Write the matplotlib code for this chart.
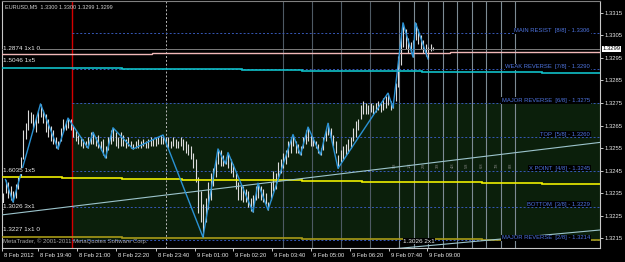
import matplotlib
matplotlib.use("Agg")
import matplotlib.pyplot as plt
from matplotlib.transforms import blended_transform_factory, ScaledTranslation

plt.rcParams["font.family"] = ["Liberation Sans", "DejaVu Sans"]

# ---- chart values (bar index = M5 bar counted from the left edge) ----
header = "EURUSD,M5  1.3300 1.3300 1.3299 1.3299"
copyright_text = "MetaTrader, \u00a9 2001-2011 MetaQuotes Software Corp."
bid = 1.3299

bar_high = [
    1.3235, 1.3241, 1.3240, 1.3238, 1.3236, 1.3239, 1.3242, 1.3251, 1.3263, 1.3266,
    1.3272, 1.3271, 1.3270, 1.3269, 1.3272, 1.32746, 1.3272, 1.3270, 1.3268, 1.3265,
    1.3263, 1.3260, 1.3258, 1.3264, 1.3268, 1.3267, 1.32683, 1.3268, 1.3265, 1.3263,
    1.3261, 1.3260, 1.3259, 1.3258, 1.3260, 1.3262, 1.3262, 1.3260, 1.3261, 1.3258,
    1.3259, 1.3256, 1.3260, 1.3263, 1.3264, 1.3262, 1.3260, 1.3262, 1.3261, 1.3259,
    1.3260, 1.3258, 1.3257, 1.3258, 1.3259, 1.3258, 1.3259, 1.3258, 1.3259, 1.3260,
    1.3259, 1.3260, 1.3260, 1.3261, 1.32608, 1.3260, 1.3260, 1.3258, 1.3260, 1.3259,
    1.3258, 1.3260, 1.3259, 1.3258, 1.3257, 1.3256, 1.3253, 1.3250, 1.3242, 1.3236,
    1.3230, 1.3233, 1.3240, 1.3244, 1.3246, 1.3250, 1.32546, 1.3254, 1.3252, 1.3251,
    1.3253, 1.3250, 1.3248, 1.3244, 1.3240, 1.3238, 1.3238, 1.3237, 1.3236, 1.3233,
    1.3234, 1.3238, 1.32394, 1.3238, 1.3237, 1.3235, 1.3231, 1.3240, 1.3245, 1.3244,
    1.3249, 1.3250, 1.3253, 1.3254, 1.3258, 1.3260, 1.3261, 1.3258, 1.3257, 1.3256,
    1.3260, 1.3263, 1.32643, 1.3261, 1.3260, 1.3258, 1.3257, 1.3255, 1.3260, 1.3263,
    1.3266, 1.3264, 1.3261, 1.3258, 1.3252, 1.3254, 1.3256, 1.3257, 1.3259, 1.3260,
    1.3264, 1.3267, 1.3268, 1.3274, 1.3276, 1.3275, 1.3274, 1.3275, 1.3274, 1.3275,
    1.3276, 1.3275, 1.3277, 1.3278, 1.32794, 1.3276, 1.3275, 1.3284, 1.3296, 1.3306,
    1.33106, 1.3308, 1.3304, 1.3302, 1.3303, 1.33106, 1.3308, 1.3305, 1.3303, 1.3301,
    1.3300, 1.3301, 1.3300,
]
bar_low = [
    1.3228, 1.3235, 1.3233, 1.3232, 1.3231, 1.3233, 1.3237, 1.3242, 1.3250, 1.3259,
    1.3263, 1.3266, 1.3264, 1.3262, 1.3266, 1.3269, 1.3266, 1.3262, 1.3260, 1.3258,
    1.3257, 1.3255, 1.32546, 1.3258, 1.3262, 1.3263, 1.3264, 1.3263, 1.3260, 1.3258,
    1.3257, 1.3256, 1.3255, 1.32555, 1.3255, 1.3257, 1.3257, 1.3256, 1.3255, 1.3254,
    1.3252, 1.32506, 1.3254, 1.3257, 1.3258, 1.3256, 1.3255, 1.3256, 1.3256, 1.3255,
    1.3256, 1.3255, 1.32546, 1.3255, 1.3255, 1.3255, 1.3256, 1.3255, 1.3255, 1.3256,
    1.3256, 1.3256, 1.3257, 1.3257, 1.3257, 1.3256, 1.3255, 1.3255, 1.3256, 1.3255,
    1.3255, 1.3256, 1.3254, 1.3253, 1.3252, 1.3250, 1.3246, 1.3240, 1.3226, 1.3222,
    1.32154, 1.3222, 1.3228, 1.3232, 1.3238, 1.3242, 1.3248, 1.3247, 1.3247, 1.3248,
    1.3246, 1.3244, 1.3242, 1.3237, 1.3232, 1.3232, 1.3231, 1.3231, 1.3229, 1.3227,
    1.32266, 1.3232, 1.3233, 1.3232, 1.3231, 1.3230, 1.32275, 1.3232, 1.3236, 1.3237,
    1.3242, 1.3244, 1.3246, 1.3248, 1.3251, 1.3253, 1.3256, 1.3253, 1.3253, 1.3252,
    1.3255, 1.3257, 1.3258, 1.3256, 1.3256, 1.3255, 1.3253, 1.3252, 1.3254, 1.3258,
    1.3261, 1.3259, 1.3256, 1.3253, 1.3246, 1.3249, 1.3250, 1.3252, 1.3253, 1.3255,
    1.3258, 1.3260, 1.3263, 1.3268, 1.3270, 1.3270, 1.3270, 1.3271, 1.3270, 1.3271,
    1.3272, 1.3271, 1.3272, 1.3273, 1.3274, 1.3272, 1.32728, 1.3276, 1.3282, 1.3292,
    1.3300, 1.3299, 1.3297, 1.3297, 1.32954, 1.3303, 1.3301, 1.3299, 1.3297, 1.3296,
    1.32946, 1.3298, 1.32986,
]

zigzag_bar = [1, 4, 15, 22, 26, 34, 36, 41, 44, 52, 64, 80, 86, 89, 90, 100, 102,
              106, 116, 119, 122, 127, 130, 134, 154, 156, 160, 164, 165, 170]
zigzag_price = [1.3241, 1.3231, 1.32746, 1.32546, 1.32683, 1.3255, 1.3262, 1.32506,
                1.3264, 1.32546, 1.32608, 1.32154, 1.32546, 1.3248, 1.3253, 1.32266,
                1.32394, 1.32275, 1.3261, 1.3252, 1.32643, 1.3252, 1.3266, 1.3246,
                1.32794, 1.32728, 1.33106, 1.32954, 1.33106, 1.32946]

# higher timeframe averages, drawn as steps
step_edges = [-2, 23.6, 47.6, 71.6, 95.6, 119.6, 143.6, 167.6, 191.6, 215.6, 240]
cyan_ma = [1.32907, 1.32906, 1.32903, 1.32900, 1.32897, 1.32894, 1.32892, 1.32889,
           1.32886, 1.32882]
yellow_ma = [1.32420, 1.32415, 1.32411, 1.32409, 1.32406, 1.32403, 1.32401, 1.32398,
             1.32394, 1.32391]
olive_ma = [1.32154, 1.32153, 1.32152, 1.32150, 1.32149, 1.32147, 1.32146, 1.32144,
            1.32142, 1.32140]
pink_edges = [-2, 59.6, 178.8, 240]
pink_ma = [1.32968, 1.32972, 1.32977]

# Murrey math levels
mm_start_bar = 27.6
mm_levels = [1.3306, 1.3290, 1.3275, 1.3260, 1.3245, 1.3229, 1.3214]
mm_names = ["MAIN RESIST  [8/8]", "WEAK REVERSE  [7/8]", "MAJOR REVERSE  [6/8]",
            "TOP  [5/8]", "X POINT  [4/8]", "BOTTOM  [3/8]", "MAJOR REVERSE  [2/8]"]
mm_time_bars = [112.0, 123.6, 135.2, 146.8, 158.4, 164.2, 170.0, 175.8, 181.6,
                187.4, 193.2, 199.0, 204.8]
mm_time_names = ["", "", "", "", "0/8", "1/8", "2/8", "3/8", "4/8", "5/8", "6/8",
                 "7/8", "8/8"]
day_separator_bar = 65.2

# Gann lines (two points each)
gann_3x1_bars = [-1.2, 238.8]
gann_3x1_prices = [1.32252, 1.32575]
gann_2x1_bars = [150.0, 238.8]
gann_2x1_prices = [1.32096, 1.32186]

gann_labels = ["1.2874 1x1 0", "1.5046 1x5", "1.6035 1x5", "1.3026 3x1", "1.3227 1x1 0"]
gann_label_prices = [1.32994, 1.32937, 1.32448, 1.32292, 1.32186]

time_labels = ["8 Feb 2012", "8 Feb 19:40", "8 Feb 21:00", "8 Feb 22:20", "8 Feb 23:40",
               "9 Feb 01:00", "9 Feb 02:20", "9 Feb 03:40", "9 Feb 05:00",
               "9 Feb 06:20", "9 Feb 07:40", "9 Feb 09:00"]
time_ticks = [-0.4, 14, 29.6, 45.2, 61.2, 76.8, 92, 107.6, 123.2, 138.8, 154.4, 169.6]
price_ticks = [1.3215, 1.3225, 1.3235, 1.3245, 1.3255, 1.3265, 1.3275, 1.3285,
               1.3295, 1.3305, 1.3315]

# ---- drawing ----
W, H = 625, 262
fig = plt.figure(figsize=(W / 100, H / 100), dpi=100, facecolor="black")
ax = fig.add_axes([2 / W, (H - 248) / H, 598 / W, 247 / H])
ax.set_facecolor("black")
x_max = 238.8
ax.set_xlim(-0.4, x_max)
ax.set_ylim(1.32106, 1.33203)

for s in ax.spines.values():
    s.set_color("#c8c8c8")
    s.set_linewidth(0.8)
ax.spines["top"].set_color("#808080")

# shaded murrey zone and vertical markers
ax.fill_between([mm_start_bar, x_max + 1], mm_levels[-1], mm_levels[2],
                color="#0b1f0b", lw=0, zorder=1)
ax.axvline(mm_start_bar, color="#d40000", lw=1.0, zorder=2)
ax.axvline(day_separator_bar, color="#b8b8b8", lw=0.7, ls=(0, (2, 2)), zorder=2)
for k, xb in enumerate(mm_time_bars):
    col = "#4e5a64" if k < 4 else "#7d8b94"
    ax.axvline(xb, color=col, lw=0.8, zorder=1.5)
    if mm_time_names[k]:
        ax.text(xb - 0.9, 1.32474, mm_time_names[k], rotation=90, fontsize=2.8,
                color="#8a8a8a", ha="right", va="center", zorder=2)

ax.hlines(mm_levels, mm_start_bar, x_max + 1, colors="#3658b8", lw=0.7,
          linestyles=(0, (2, 2)), zorder=2)

# price bars
idx = list(range(len(bar_high)))
ax.vlines(idx, bar_low, bar_high, color="#dcdcdc", lw=0.8, zorder=3)

# indicator lines
ax.axhline(bid, color="#7c7c7c", lw=0.7, zorder=4)
ax.stairs(pink_ma, pink_edges, baseline=None, color="#f2b8b8", lw=1.0, zorder=4)
ax.stairs(cyan_ma, step_edges, baseline=None, color="#10c0c8", lw=1.2, zorder=4)
ax.stairs(yellow_ma, step_edges, baseline=None, color="#eeee00", lw=1.2, zorder=4)
ax.stairs(olive_ma, step_edges, baseline=None, color="#a89a18", lw=1.2, zorder=4)
ax.plot(gann_3x1_bars, gann_3x1_prices, color="#9cc4cc", lw=0.8, zorder=4)
ax.plot(gann_2x1_bars, gann_2x1_prices, color="#9cc4cc", lw=0.8, zorder=4)
ax.plot(zigzag_bar, zigzag_price, color="#2a92d4", lw=1.0, zorder=5)

# murrey labels
for lvl, name in zip(mm_levels, mm_names):
    ax.text(234.8, lvl, f"{name} - {lvl:.4f}", ha="right", va="bottom", fontsize=4.2,
            color="#4e74e0", zorder=6,
            bbox=dict(facecolor="black", edgecolor="none", pad=0.4))

# gann labels
for name, p in zip(gann_labels, gann_label_prices):
    ax.text(0, p, name, ha="left", va="center", fontsize=4.6, color="#ececec", zorder=6,
            bbox=dict(facecolor="black", edgecolor="none", pad=0.2))
ax.text(160, 1.32137, "1.3026 2x1", ha="left", va="center", fontsize=4.6,
        color="#ececec", zorder=6, bbox=dict(facecolor="black", edgecolor="none", pad=0.3))

# axes ticks
ax.yaxis.tick_right()
ax.set_yticks(price_ticks)
ax.set_yticklabels([f"{p:.4f}" for p in price_ticks])
ax.tick_params(axis="y", colors="#e8e8e8", length=2.2, width=0.6, labelsize=4.2, pad=1.0)
ax.set_xticks(time_ticks)
ax.set_xticklabels(time_labels)
ax.tick_params(axis="x", colors="#e8e8e8", length=2.5, width=0.6, labelsize=4.2, pad=0.8)
shift = ScaledTranslation(1.5 / 72, 0, fig.dpi_scale_trans)
for lbl in ax.get_xticklabels():
    lbl.set_ha("left")
    lbl.set_transform(lbl.get_transform() + shift)

# bid price box on the price scale
trans = blended_transform_factory(ax.transAxes, ax.transData)
ax.text(1.004, bid, f"{bid:.4f}", transform=trans, ha="left", va="center", fontsize=4.2,
        color="black", zorder=7, clip_on=False,
        bbox=dict(facecolor="white", edgecolor="none", pad=0.6))

fig.text(5 / W, 1 - 7 / H, header, ha="left", va="center", fontsize=4.0, color="#d0d0d0")
fig.text(3 / W, 1 - 241 / H, copyright_text, ha="left", va="center", fontsize=4.3,
         color="#a8a8a8")

fig.savefig("out.png", dpi=100, facecolor="black")
